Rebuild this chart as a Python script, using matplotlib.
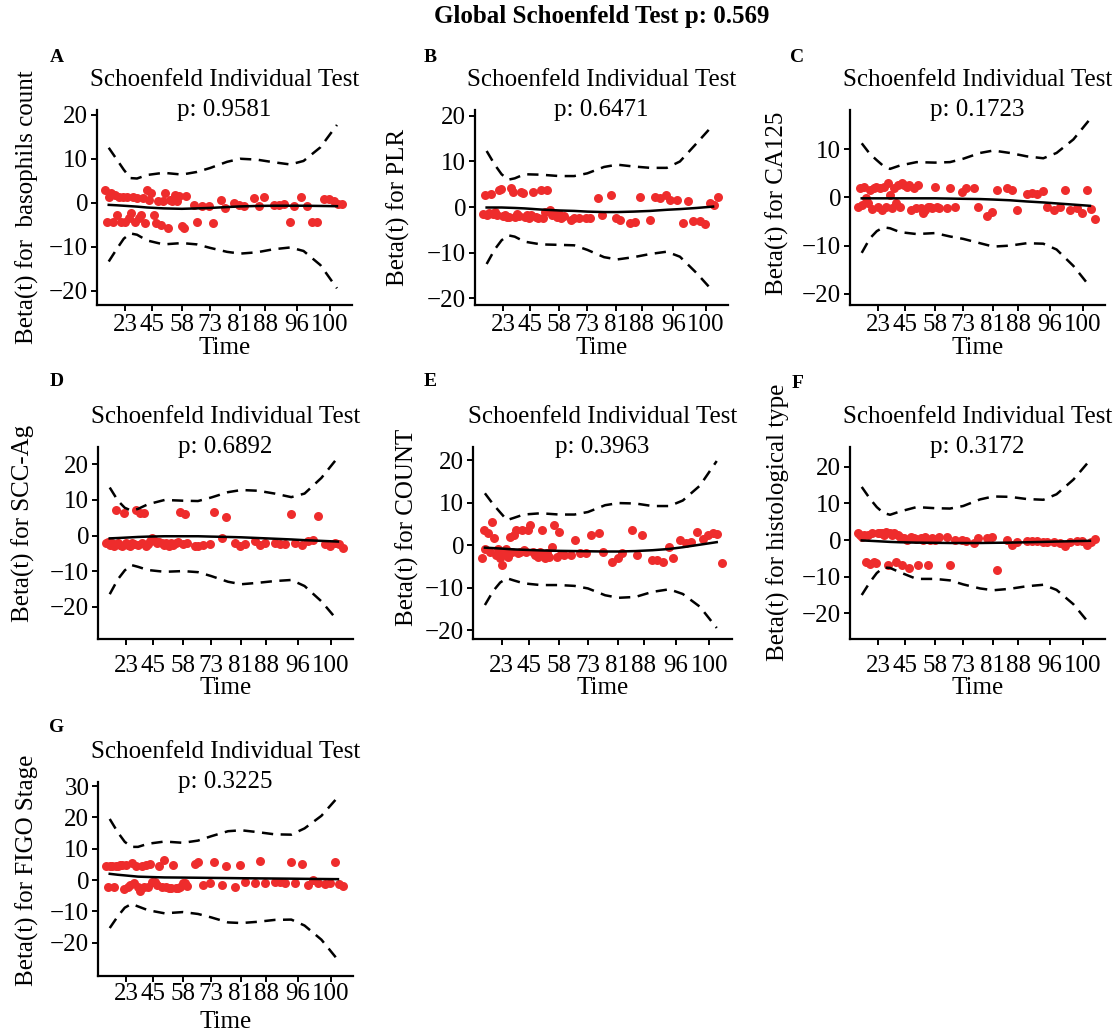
import matplotlib
matplotlib.use("Agg")
import matplotlib.pyplot as plt

plt.rcParams['font.family'] = ['Liberation Serif', 'DejaVu Serif']
plt.rcParams['axes.unicode_minus'] = True

# transformed event time (shared by all covariates)
event_x = [3.3, 4.1, 4.8, 5.6, 6.4, 7.2, 8.0, 8.8, 9.5, 10.3,
           11.1, 11.9, 12.7, 13.5, 14.2, 15.0, 15.8, 16.6, 17.4, 18.2,
           19.0, 19.7, 20.5, 21.3, 22.2, 23.1, 24.1, 25.0, 25.9, 26.8,
           27.7, 28.6, 29.5, 30.5, 31.4, 32.3, 33.2, 34.1, 35.0,
           37.9, 39.2, 41.2, 43.8, 45.5, 48.6, 50.3, 53.6, 55.8, 57.5,
           61.4, 63.4, 65.4, 69.3, 71.2, 73.2, 75.6, 77.1, 80.0, 82.4,
           84.3, 86.3, 88.9, 90.8, 92.8, 94.4, 96.1]

time_ticks = [11.1, 21.6, 33.3, 44.4, 55.9, 66.0, 78.4, 91.2]
time_labels = ['23', '45', '58', '73', '81', '88', '96', '100']

curve_x = [4.6, 7.8, 10.5, 13.1, 15.7, 19.6, 26.1, 33.3, 39.2, 44.4,
           51.0, 56.2, 62.7, 69.3, 75.8, 81.0, 87.6, 94.1]

# scaled Schoenfeld residuals
a_beta = [2.9, -4.3, 1.4, 2.2, -4.3, 1.8, -2.75, 1.4, -4.3, 1.4,
          -4.3, 1.4, -3.5, -2.4, 1.4, -4.3, 1.0, -3.5, -2.75, 1.0,
          -4.6, 2.9, 0.65, 2.2, -2.75, -4.6, 0.3, -5.0, 0.3, 2.2,
          -5.8, 0.65, 0.3, 1.8, 0.3, 1.6, -5.4, -5.8, 1.6,
          -0.5, -4.3, -0.85, -0.7, -4.6, 0.65, -1.2, 0.0, -0.5, -0.85,
          1.0, -0.85, 1.4, -0.5, -0.5, -0.3, -4.5, -0.85, 1.4, -0.8,
          -4.5, -4.3, 0.8, 0.8, 0.3, -0.2, -0.35]
b_beta = [-1.5, 2.6, -1.76, -1.3, 2.9, -1.5, -1.0, -1.76, 3.7, 3.9,
          -2.0, -1.76, -2.2, -2.2, 4.1, 3.4, -2.2, -1.5, -2.0, 3.4,
          3.1, -2.2, -1.76, -2.5, -1.8, 3.4, -2.2, -2.5, 3.7, -2.3,
          -1.0, 3.7, -0.7, -1.76, -1.2, -2.2, -1.5, -2.5, -2.0,
          -2.8, -2.5, -2.3, -2.5, -2.5, 1.9, -1.8, 2.6, -2.5, -2.9,
          -3.6, -3.3, 2.2, -2.8, 2.2, 1.9, 2.6, 1.5, 1.5, -3.4,
          1.4, -3.1, -3.0, -3.7, 0.8, 0.5, 2.2]
c_beta = [-1.9, 1.85, -1.55, 2.2, -0.2, -1.25, 1.5, -2.5, 1.85, 2.2,
          -1.9, 1.85, -2.6, 2.2, -1.9, 2.9, 0.5, -2.2, 1.85, -1.25,
          2.5, -1.9, 2.9, 2.5, 2.2, 2.5, -2.6, 1.85, -2.2, 2.5,
          -2.2, -3.3, -2.6, -1.9, -1.9, -2.3, 2.2, -1.9, -2.2,
          -2.2, 1.85, -2.0, 1.2, 1.85, 1.95, -1.9, -3.8, -3.1, 1.6,
          1.95, 1.5, -2.6, 0.8, 1.0, 0.7, 1.3, -1.9, -2.6, -2.0,
          1.6, -2.6, -2.2, -3.3, 1.6, -2.5, -4.4]
d_beta = [-2.2, -1.8, -2.6, -2.2, -2.9, 7.1, -2.2, -2.6, -2.9, 6.4,
          -2.2, -2.6, -2.9, -2.2, -2.5, 7.3, -2.6, 6.4, -2.2, 6.2,
          -2.9, -2.5, -1.5, -0.8, -1.6, -2.2, -1.8, -2.2, -2.6, -2.2,
          -2.9, -2.2, -2.6, -2.2, -1.9, 6.7, -2.5, 6.0, -2.2,
          -2.9, -3.0, -2.6, -2.5, 6.7, -0.8, 5.3, -2.2, -2.9, -2.5,
          -1.6, -2.6, -2.2, -2.0, -2.4, -2.3, 6.0, -2.2, -2.6, -1.6,
          -1.2, 5.5, -2.5, -3.0, -2.0, -2.3, -3.5]
e_beta = [-3.1, 3.5, -0.8, 2.8, -1.6, 5.5, 1.6, -2.4, -0.8, -3.1,
          -4.7, -1.9, -0.8, -2.8, 1.9, -1.6, 2.4, 3.5, -1.9, -1.6,
          3.5, -1.2, -1.6, 3.5, 4.7, -1.6, -2.4, -2.8, -1.6, 3.5,
          -3.1, -1.9, -2.8, -0.4, 4.7, -2.8, 3.1, -2.0, -2.4,
          -2.4, 1.2, -1.9, -1.9, 2.4, 2.8, -1.6, -3.9, -3.1, -1.9,
          3.5, -2.4, 2.4, -3.5, -3.5, -3.9, -0.4, -3.1, 1.2, 0.6,
          0.8, 3.1, 1.5, 2.4, 2.8, 2.6, -4.3]
f_beta = [1.8, 1.4, 0.9, 1.4, -5.9, 1.4, -6.5, 1.8, -6.0, -6.2,
          2.0, 1.8, 1.8, 1.4, 2.3, -6.8, 1.8, 1.4, 1.8, -5.9,
          1.4, 0.9, -6.8, 0.5, 0.0, -7.5, 0.9, 0.5, 0.4, -6.8,
          0.5, 0.0, 0.9, -6.8, 0.0, 0.5, 0.0, 0.2, 0.9,
          0.9, -6.8, 0.0, 0.0, -0.2, -0.9, 0.5, 0.5, 0.9, -8.2,
          0.0, -1.3, -0.5, -0.3, -0.2, -0.3, -0.5, -0.6, -0.5, -0.9,
          -1.6, -0.5, -0.2, -0.2, -1.4, -0.5, 0.2]
g_beta = [4.4, -2.1, 4.4, 4.4, -2.3, 4.4, 4.6, 4.7, 4.7, -2.9,
          4.7, -2.1, -1.6, 5.4, -1.0, 4.4, -2.1, -3.4, 4.4, -2.1,
          4.7, -2.3, 5.0, -0.5, -0.5, -1.6, 4.4, -2.1, 6.5, -2.1,
          -2.6, -2.6, 4.7, -2.6, -2.6, -2.1, -1.0, -1.0, -1.8,
          5.0, 5.8, -1.6, -1.0, 5.8, -1.6, 4.4, -2.1, 4.7, -0.5,
          -1.0, 6.1, -0.8, -0.6, -0.5, -0.8, 5.8, -1.0, 5.2, -1.6,
          0.0, -0.8, -1.2, -1.0, 5.8, -1.4, -1.9]

# spline fit and +/- 2 se bands
a_fit = [-0.5, -0.6, -0.7, -0.8, -0.9, -1.1, -1.3, -1.4, -1.3, -1.2, -1.0, -0.85, -0.75, -0.7, -0.7, -0.7, -0.75, -0.8]
a_upper = [12.5, 9.8, 7.5, 5.6, 5.5, 6.3, 6.8, 6.4, 7.0, 7.9, 9.3, 10.0, 9.8, 9.2, 8.7, 9.5, 12.6, 17.7]
a_lower = [-13.4, -10.5, -8.2, -7.0, -7.3, -8.6, -9.5, -9.2, -9.5, -10.3, -11.2, -11.6, -11.3, -10.6, -10.2, -11.0, -14.2, -19.5]

b_fit = [-0.1, -0.1, -0.1, -0.15, -0.2, -0.3, -0.55, -0.75, -0.85, -1.0, -1.1, -1.1, -1.0, -0.85, -0.6, -0.45, -0.2, 0.1]
b_upper = [12.3, 9.3, 7.2, 6.0, 6.3, 7.2, 7.1, 6.8, 6.8, 7.4, 8.8, 9.3, 8.9, 8.6, 8.6, 10.0, 14.0, 18.0]
b_lower = [-12.5, -9.3, -7.3, -6.2, -6.5, -7.6, -8.2, -8.3, -8.4, -9.4, -11.0, -11.5, -11.0, -10.3, -9.8, -10.9, -14.5, -18.5]

c_fit = [-0.2, -0.2, -0.2, -0.2, -0.2, -0.2, -0.2, -0.2, -0.25, -0.3, -0.35, -0.45, -0.6, -0.85, -1.05, -1.25, -1.5, -1.75]
c_upper = [11.2, 9.0, 7.7, 6.5, 5.9, 6.6, 7.3, 7.2, 7.3, 8.0, 9.2, 9.7, 9.2, 8.5, 8.1, 9.2, 12.0, 16.2]
c_lower = [-11.5, -8.5, -7.0, -6.2, -6.4, -7.2, -7.6, -7.4, -8.1, -8.6, -9.5, -10.2, -10.0, -9.5, -9.6, -10.8, -14.2, -18.5]

d_fit = [-0.8, -0.7, -0.6, -0.5, -0.4, -0.3, -0.2, -0.2, -0.2, -0.3, -0.4, -0.5, -0.7, -0.9, -1.1, -1.3, -1.5, -1.7]
d_upper = [13.5, 9.8, 7.8, 7.0, 7.5, 8.8, 10.0, 9.8, 9.7, 10.7, 12.2, 12.8, 12.6, 11.8, 10.8, 11.8, 16.2, 22.0]
d_lower = [-16.5, -12.3, -9.8, -8.3, -8.8, -9.7, -10.2, -10.0, -10.3, -11.4, -13.0, -13.7, -13.3, -12.8, -12.5, -14.2, -18.5, -24.0]

e_fit = [-0.6, -0.7, -0.8, -0.9, -1.0, -1.1, -1.25, -1.35, -1.4, -1.45, -1.5, -1.5, -1.4, -1.2, -0.9, -0.5, 0.1, 0.7]
e_upper = [12.2, 9.6, 7.7, 5.9, 6.4, 7.2, 7.5, 7.2, 7.2, 7.8, 9.4, 9.9, 9.8, 9.2, 9.2, 10.5, 14.0, 19.8]
e_lower = [-14.1, -10.8, -8.8, -7.8, -8.3, -9.0, -9.4, -9.4, -9.6, -10.2, -11.8, -12.4, -12.2, -11.0, -10.4, -11.5, -14.5, -19.5]

f_fit = [-0.1, -0.2, -0.3, -0.4, -0.5, -0.6, -0.7, -0.75, -0.8, -0.8, -0.8, -0.75, -0.7, -0.6, -0.5, -0.4, -0.3, -0.2]
f_upper = [14.5, 11.3, 9.0, 7.4, 6.9, 7.8, 9.0, 8.7, 8.6, 9.3, 11.1, 11.9, 11.8, 11.2, 11.0, 12.5, 16.5, 21.8]
f_lower = [-15.0, -11.5, -9.0, -7.5, -7.6, -8.8, -10.6, -10.6, -11.0, -12.1, -13.2, -13.7, -13.3, -12.6, -12.2, -13.6, -17.5, -23.0]

g_fit = [2.0, 1.7, 1.5, 1.3, 1.1, 1.0, 0.85, 0.8, 0.75, 0.7, 0.65, 0.6, 0.55, 0.5, 0.45, 0.4, 0.35, 0.3]
g_upper = [19.5, 15.2, 12.2, 10.6, 10.6, 11.6, 12.3, 11.9, 12.6, 14.0, 15.6, 15.9, 15.3, 14.6, 14.5, 16.5, 20.5, 26.5]
g_lower = [-15.3, -11.5, -8.8, -7.6, -8.4, -9.6, -10.6, -10.2, -10.8, -11.9, -13.5, -13.7, -13.3, -12.7, -12.6, -14.5, -19.0, -25.5]

W, H = 1115, 1035
FS = 18
fig = plt.figure(figsize=(W / 100, H / 100), dpi=100)


def panel(box, letter_xy, ylabel, pval, beta, fit, upper, lower, ylim, yticks,
          ylab_off, ylab_y, xpad, xlab_off):
    x0, y0, x1, y1 = box
    ax = fig.add_axes([x0 / W, 1 - y1 / H, (x1 - x0) / W, (y1 - y0) / H])
    ax.scatter(event_x, beta, s=42, color='#EE2C2C', zorder=2, linewidths=0)
    ax.plot(curve_x, fit, color='black', lw=1.8, zorder=3)
    ax.plot(curve_x, upper, color='black', lw=1.8, dashes=(4.5, 3), zorder=3)
    ax.plot(curve_x, lower, color='black', lw=1.8, dashes=(4.5, 3), zorder=3)
    ax.set_xlim(0, 100)
    ax.set_ylim(*ylim)
    ax.set_yticks(yticks)
    ax.set_xticks(time_ticks)
    ax.set_xticklabels(time_labels)
    for s in ['top', 'right']:
        ax.spines[s].set_visible(False)
    for s in ['left', 'bottom']:
        ax.spines[s].set_linewidth(1.6)
    ax.tick_params(length=4.3, width=1.4, labelsize=FS, colors='black')
    ax.tick_params(axis='y', pad=2)
    ax.tick_params(axis='x', pad=xpad)
    ax.set_xlabel('Time', fontsize=FS, va='center')
    ax.xaxis.set_label_coords(0.5, -xlab_off / (y1 - y0))
    ax.set_ylabel(ylabel, fontsize=FS, va='center')
    ax.yaxis.set_label_coords(-ylab_off / (x1 - x0), ylab_y)
    ax.text(0.5, 1 + 30 / (y1 - y0), 'Schoenfeld Individual Test',
            transform=ax.transAxes, ha='center', va='center', fontsize=FS)
    ax.text(0.5, 1.0, 'p: ' + pval, transform=ax.transAxes,
            ha='center', va='center', fontsize=FS)
    fig.text(letter_xy[1] / W, 1 - letter_xy[2] / H, letter_xy[0], fontsize=14,
             fontweight='bold', ha='center', va='center')
    return ax


panel((97, 110, 352, 305), ('A', 57, 57), 'Beta(t) for  basophils count', '0.9581',
      a_beta, a_fit, a_upper, a_lower, (-23.3, 21.1), [-20, -10, 0, 10, 20],
      70, 0.5, 2, 43)
panel((475, 110, 728, 305), ('B', 430, 57), 'Beta(t) for PLR', '0.6471',
      b_beta, b_fit, b_upper, b_lower, (-21.5, 21.3), [-20, -10, 0, 10, 20],
      77, 0.5, 2, 43)
panel((850, 110, 1105, 305), ('C', 797, 57), 'Beta(t) for CA125', '0.1723',
      c_beta, c_fit, c_upper, c_lower, (-22.3, 18.1), [-20, -10, 0, 10],
      73, 0.52, 2, 43)
panel((98, 447, 353, 639), ('D', 57, 382), 'Beta(t) for SCC-Ag', '0.6892',
      d_beta, d_fit, d_upper, d_lower, (-29.1, 24.9), [-20, -10, 0, 10, 20],
      75, 0.6, 7, 49)
panel((473, 447, 732, 639), ('E', 430, 382), 'Beta(t) for COUNT', '0.3963',
      e_beta, e_fit, e_upper, e_lower, (-22.1, 23.1), [-20, -10, 0, 10, 20],
      66, 0.58, 7, 49)
panel((850, 447, 1105, 639), ('F', 798, 383), 'Beta(t) for histological type', '0.3172',
      f_beta, f_fit, f_upper, f_lower, (-27.0, 25.4), [-20, -10, 0, 10, 20],
      72, 0.61, 7, 49)
panel((98, 782, 353, 976), ('G', 57, 728), 'Beta(t) for FIGO Stage', '0.3225',
      g_beta, g_fit, g_upper, g_lower, (-30.6, 31.3), [-20, -10, 0, 10, 20, 30],
      71, 0.546, 1, 46)

fig.text(602 / W, 1 - 17 / H, 'Global Schoenfeld Test p: 0.569', fontsize=18,
         fontweight='bold', ha='center', va='center')

fig.savefig('out.png', dpi=100)
